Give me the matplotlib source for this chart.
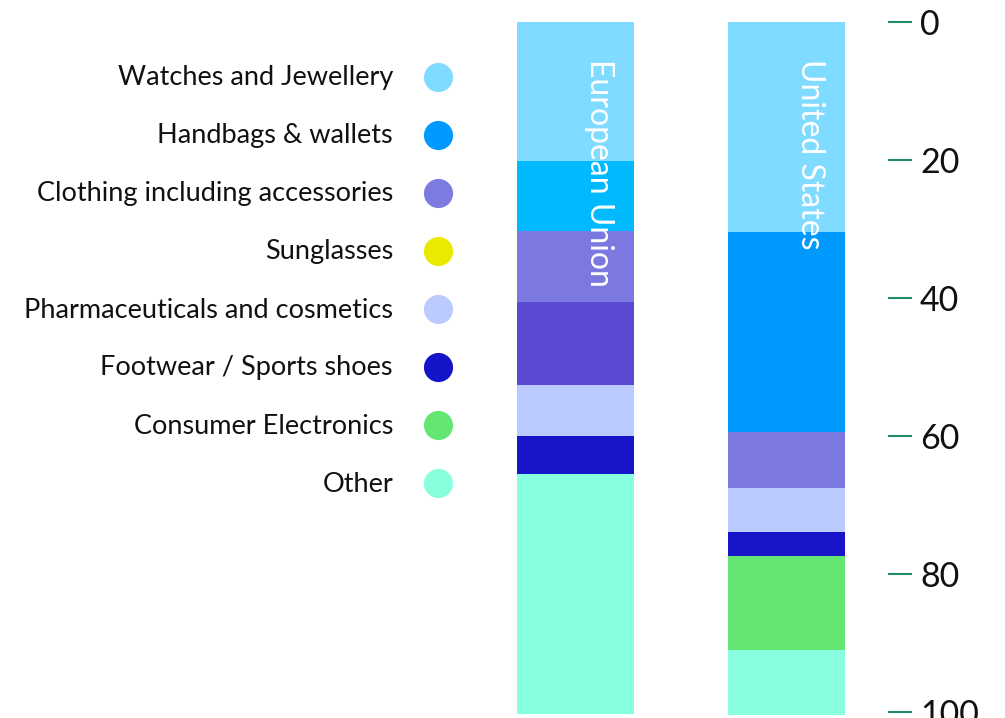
import matplotlib
matplotlib.use("Agg")
import matplotlib.pyplot as plt

plt.rcParams['font.family'] = ['Lato', 'DejaVu Sans']

categories = ["Watches and Jewellery", "Handbags & wallets", "Clothing including accessories",
              "Sunglasses", "Pharmaceuticals and cosmetics", "Footwear / Sports shoes",
              "Consumer Electronics", "Other"]
legend_colors = ["#7fdbff", "#0099ff", "#7b7be0", "#eaea00", "#bbcbff", "#1414c8", "#64e672", "#88ffdd"]

bars = ["European Union", "United States"]
eu_values = [20.1, 10.2, 10.3, 12.0, 7.4, 5.5, 0.0, 34.8]
us_values = [30.4, 29.0, 8.2, 0.0, 6.3, 3.5, 13.6, 9.4]
eu_colors = ["#7fdbff", "#00b9ff", "#7b79e0", "#5b49d3", "#bbcbff", "#1714c9", "#64e672", "#88ffdf"]
us_colors = ["#7fdbff", "#009aff", "#7b79e0", "#eaea00", "#bbcbff", "#1714c9", "#64e672", "#88ffdf"]
yticks = [0, 20, 40, 60, 80, 100]

W, H = 1005, 718
fig = plt.figure(figsize=(W / 100, H / 100), dpi=100)
ax = fig.add_axes([480 / W, (H - 712) / H, (888 - 480) / W, (712 - 22) / H])

bar_w = 117 / 211
for i, (vals, cols) in enumerate([(eu_values, eu_colors), (us_values, us_colors)]):
    bottom = 0.0
    for v, c in zip(vals, cols):
        if v > 0:
            ax.bar(i, v, bottom=bottom, width=bar_w, color=c, linewidth=0, clip_on=False)
        bottom += v
    ax.text(i + 0.11, 5.3, bars[i], rotation=-90, color="white", fontsize=23,
            ha="center", va="top")

ax.set_xlim(-95.5 / 211, (888 - 575.5) / 211)
ax.set_ylim(100, 0)
ax.yaxis.tick_right()
ax.set_yticks(yticks)
ax.tick_params(axis='y', direction='out', length=17, width=1.5, color="#1e8c6a",
               labelsize=24.5, pad=6, labelcolor="#111111")
ax.set_xticks([])
for s in ax.spines.values():
    s.set_visible(False)

# legend
lax = fig.add_axes([0, 0, 1, 1])
lax.set_xlim(0, W)
lax.set_ylim(H, 0)
lax.axis('off')
for k, (name, col) in enumerate(zip(categories, legend_colors)):
    y = 78 + k * 58.0
    lax.text(393, y, name, ha="right", va="center", fontsize=19.5, color="#111111")
    lax.scatter([438], [y - 1], s=440, color=col, linewidths=0)

fig.savefig("out.png", dpi=100)
